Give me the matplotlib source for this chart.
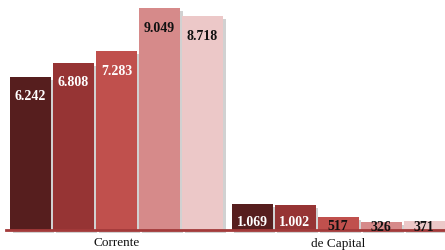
import numpy as np
import matplotlib.pyplot as plt
import matplotlib.patheffects as pe

categories = ['Corrente', 'de Capital']
series_values = [
    [6242, 1069],
    [6808, 1002],
    [7283, 517],
    [9049, 326],
    [8718, 371],
]
value_labels = [
    ['6.242', '1.069'],
    ['6.808', '1.002'],
    ['7.283', '517'],
    ['9.049', '326'],
    ['8.718', '371'],
]
colors = ['#561e1e', '#963434', '#c0504d', '#d68a8a', '#ecc8c8']

fig = plt.figure(figsize=(4.45, 2.5), dpi=100)
ax = fig.add_axes([0, 20 / 250, 1, 222 / 250])

x = np.arange(len(categories))
pitch = 43 / 221.5
width = 41 / 221.5
px = 9049 / 222  # data units per pixel

for i, vals in enumerate(series_values):
    pos = x + (i - 2) * pitch
    bars = ax.bar(pos, vals, width=width, color=colors[i], clip_on=False, zorder=2)
    for b in bars:
        b.set_path_effects([pe.SimplePatchShadow(offset=(2, -2), shadow_rgbFace='#999999', alpha=0.45),
                            pe.Normal()])
    for j, v in enumerate(vals):
        y = max(v - 20 * px, 0.3 * v)
        white = i < 3 and v > 20 * px
        ax.text(pos[j], y, value_labels[i][j], ha='center', va='center',
                fontsize=10, fontweight='bold', family='Liberation Serif',
                color='white' if white else '#111111', zorder=4)

ax.set_xlim(-116.5 / 221.5, (445 - 116.5) / 221.5)
ax.set_ylim(0, 9049)
ax.axhline(0, xmin=6 / 445, xmax=1, color='#a33a3a', lw=2, zorder=3, clip_on=False)
for xi, c in zip(x, categories):
    ax.text(xi, -13.5 * px, c, ha='center', va='center', fontsize=9.5,
            family='Liberation Serif', color='#111111')
ax.axis('off')

fig.savefig('out.png', dpi=100)
